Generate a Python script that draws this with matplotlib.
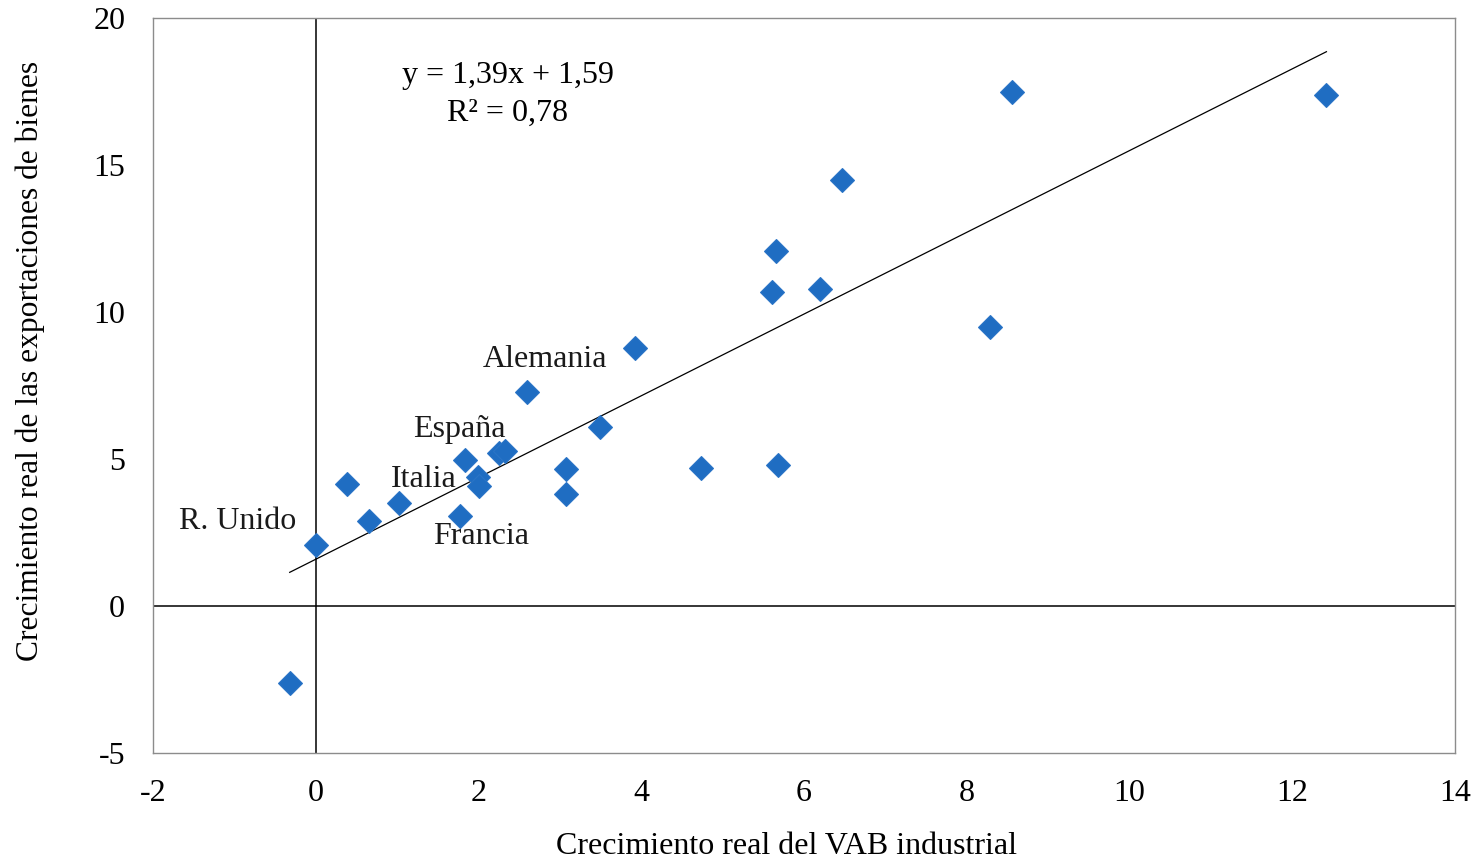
import matplotlib
matplotlib.use("Agg")
import matplotlib.pyplot as plt
import numpy as np

# Data
vab = [-0.32, 0.00, 0.39, 0.66, 1.02, 1.77, 1.83, 1.99, 2.01, 2.25, 2.32, 2.59,
       3.07, 3.07, 3.49, 3.92, 4.73, 5.61, 5.65, 5.68, 6.20, 6.47, 8.28, 8.55, 12.42]
exports = [-2.62, 2.07, 4.15, 2.89, 3.50, 3.06, 4.97, 4.39, 4.08, 5.20, 5.27, 7.28,
           4.66, 3.81, 6.09, 8.78, 4.69, 10.68, 12.07, 4.80, 10.78, 14.49, 9.49, 17.48, 17.38]
slope, intercept = 1.39, 1.59
r2 = 0.78
labels = ["Alemania", "España", "Italia", "R. Unido", "Francia"]
label_pos = [(2.815, 8.37), (1.77, 6.02), (1.33, 4.29), (-0.96, 2.86), (2.03, 2.35)]
xticks = [-2, 0, 2, 4, 6, 8, 10, 12, 14]
yticks = [-5, 0, 5, 10, 15, 20]

plt.rcParams['font.family'] = ['Liberation Serif', 'DejaVu Serif']
plt.rcParams['axes.unicode_minus'] = False
FS = 23

fig = plt.figure(figsize=(14.82, 8.60), dpi=100)
ax = fig.add_axes([153/1482, 1-753/860, (1455-153)/1482, (753-18)/860])
ax.set_xlim(-2, 14)
ax.set_ylim(-5, 20)
ax.set_xticks(xticks)
ax.set_yticks(yticks)
ax.tick_params(length=0, labelsize=FS)
ax.tick_params(axis='x', pad=19)
ax.tick_params(axis='y', pad=20)
for s in ax.spines.values():
    s.set_color('#8c8c8c')
    s.set_linewidth(1.0)

ax.axhline(0, color='black', lw=1.1, zorder=1)
ax.axvline(0, color='black', lw=1.1, zorder=1)

xs = np.array([min(vab), max(vab)])
ax.plot(xs, slope*xs + intercept, color='black', lw=0.9, zorder=2)

ax.plot(vab, exports, linestyle='none', marker='D', ms=12.5,
        color='#1f6dc2', mec='#2a74c6', mew=0.8, zorder=3)

for t, (x, y) in zip(labels, label_pos):
    ax.text(x, y, t, fontsize=FS, ha='center', va='center', color='#1a1a1a', zorder=4)

ax.text(2.36, 18.03, f"y = {slope:.2f}x + {intercept:.2f}".replace('.', ','),
        fontsize=FS, ha='center', va='center')
ax.text(2.36, 16.77, f"R² = {r2:.2f}".replace('.', ','),
        fontsize=FS, ha='center', va='center')

ax.set_xlabel("Crecimiento real del VAB industrial", fontsize=FS)
ax.set_ylabel("Crecimiento real de las exportaciones de bienes", fontsize=22.7)
ax.xaxis.set_label_coords((787-153)/1302, -(861-753)/735)
ax.xaxis.label.set_va('bottom')
ax.yaxis.label.set_va('center')
ax.yaxis.set_label_coords(-(153-30)/1302, (753-361)/735)

fig.savefig("out.png", dpi=100)
